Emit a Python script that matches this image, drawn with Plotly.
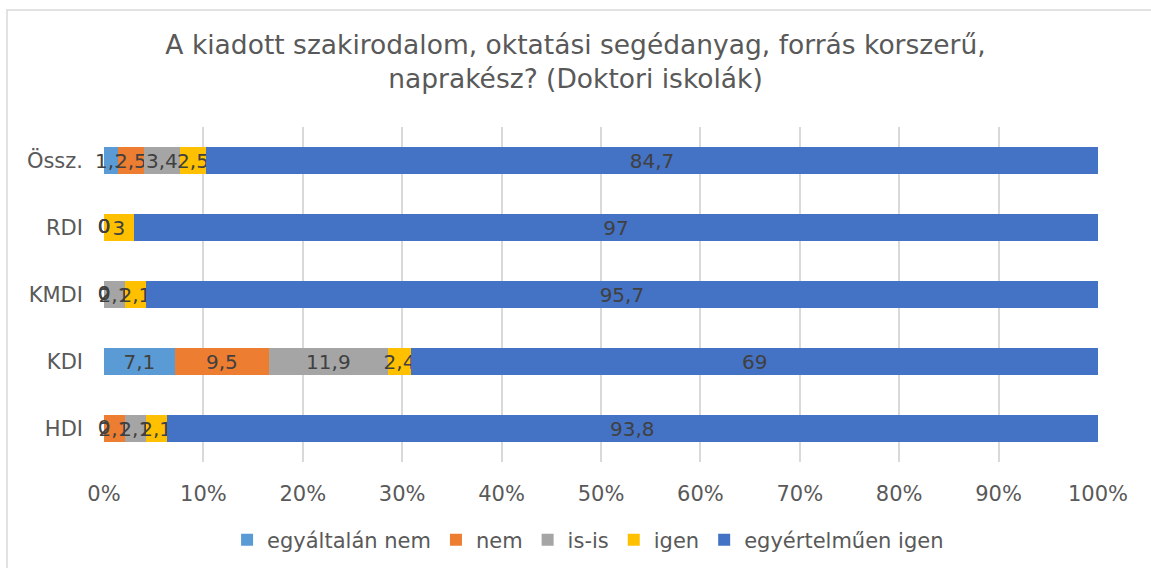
import plotly.graph_objects as go

categories = ["HDI", "KDI", "KMDI", "RDI", "Össz."]
series_names = ["egyáltalán nem", "nem", "is-is", "igen", "egyértelműen igen"]
egyaltalan_nem = [0, 7.1, 0, 0, 1.3]
nem = [2.1, 9.5, 0, 0, 2.5]
is_is = [2.1, 11.9, 2.1, 0, 3.4]
igen = [2.1, 2.4, 2.1, 3, 2.5]
egyertelmuen_igen = [93.8, 69, 95.7, 97, 84.7]
colors = ["#5B9BD5", "#ED7D31", "#A5A5A5", "#FFC000", "#4472C4"]
tick_vals = list(range(0, 101, 10))
tick_text = [f"{v}%" for v in tick_vals]

FONT = "DejaVu Sans"
LABEL_FONT = dict(family=FONT, size=20, color="#404040")

all_series = [egyaltalan_nem, nem, is_is, igen, egyertelmuen_igen]


def fmt(v):
    return f"{v:g}".replace(".", ",")


fig = go.Figure()
for name, vals, col in zip(series_names, all_series, colors):
    fig.add_trace(go.Bar(
        y=categories, x=vals, name=name, orientation="h",
        marker=dict(color=col, line=dict(width=0)),
        text=[fmt(v) for v in vals],
        textposition="inside", insidetextanchor="middle", textangle=0,
        constraintext="none", cliponaxis=False,
        textfont=LABEL_FONT,
        hoverinfo="skip",
    ))

# labels of zero-valued segments (drawn at their stacked position)
zx, zy, zt = [], [], []
for ci, cat in enumerate(categories):
    total = sum(s[ci] for s in all_series)
    cum = 0
    for s in all_series:
        if s[ci] == 0:
            zx.append(cum / total * 100)
            zy.append(cat)
            zt.append(fmt(s[ci]))
        cum += s[ci]
fig.add_trace(go.Scatter(
    x=zx, y=zy, text=zt, mode="text", textposition="middle center",
    textfont=LABEL_FONT, showlegend=False, hoverinfo="skip", cliponaxis=False,
))

fig.update_layout(
    barmode="stack", barnorm="percent", bargap=0.6,
    width=1151, height=568,
    margin=dict(l=104, r=53, t=127, b=106, autoexpand=False),
    paper_bgcolor="white", plot_bgcolor="white",
    font=dict(family=FONT, color="#595959"),
    title=dict(text="A kiadott szakirodalom, oktatási segédanyag, forrás korszerű,<br>naprakész? (Doktori iskolák)",
               x=0.5, xanchor="center", y=0.905, yanchor="middle",
               font=dict(family=FONT, size=26.5, color="#595959")),
    xaxis=dict(range=[0, 100], tickvals=tick_vals, ticktext=tick_text,
               showgrid=True, gridcolor="#D9D9D9", gridwidth=1.5,
               zeroline=False, showline=False, automargin=False,
               tickfont=dict(family=FONT, size=21, color="#595959"),
               ticklabelstandoff=17),
    yaxis=dict(showgrid=False, zeroline=False, showline=False, automargin=False,
               tickfont=dict(family=FONT, size=21, color="#595959"),
               ticklabelstandoff=20),
    legend=dict(orientation="h", x=0.487, xanchor="center", y=-0.233, yanchor="middle",
                font=dict(family=FONT, size=21, color="#595959"),
                traceorder="normal", itemwidth=30),
    shapes=[dict(type="rect", xref="paper", yref="paper",
                 x0=-0.0976, x1=1.2, y0=-0.6, y1=1.349,
                 line=dict(color="#D9D9D9", width=1.5), fillcolor="rgba(0,0,0,0)")],
    separators=", ",
)

fig.write_html("out.html", config={"displayModeBar": False},
               post_script="document.body.style.margin='0';")
